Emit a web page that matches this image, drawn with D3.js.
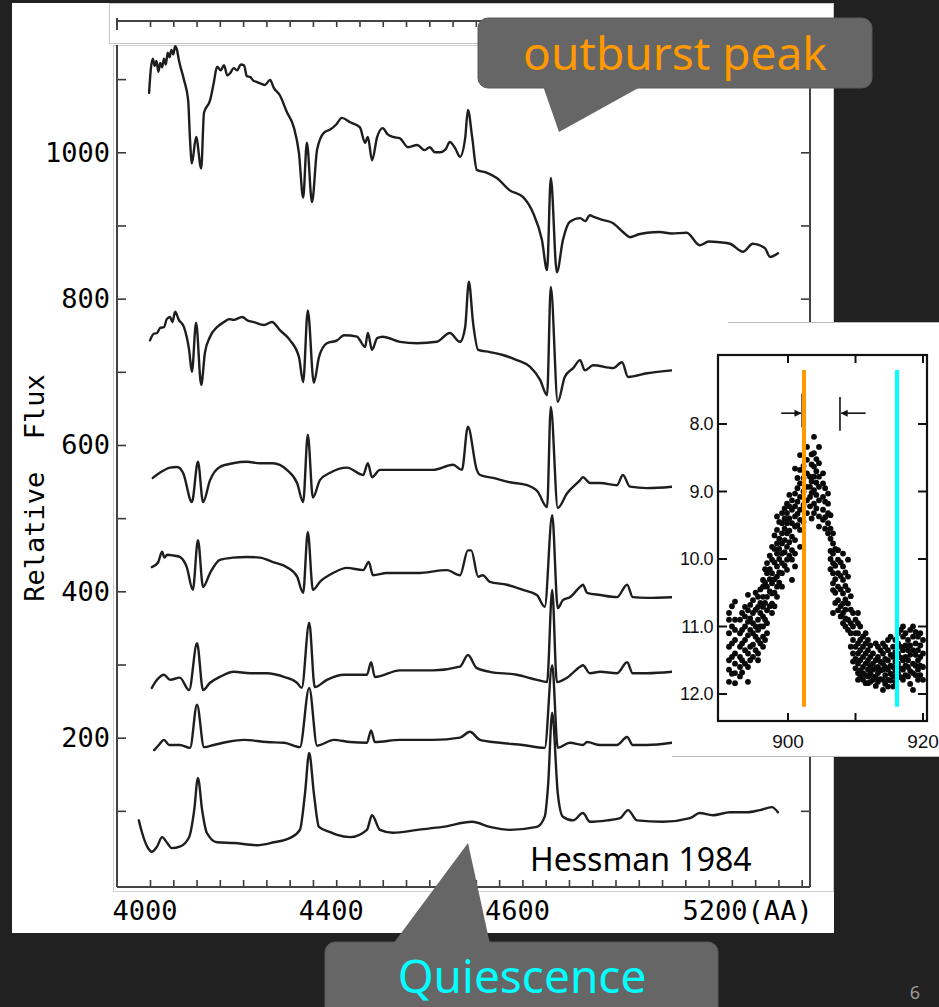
<!DOCTYPE html>
<html><head><meta charset="utf-8">
<script src="https://cdn.jsdelivr.net/npm/d3@7"></script>
<style>html,body{margin:0;padding:0;background:#212121;}svg{display:block}</style>
</head><body>
<svg id="c" width="939" height="1007"></svg>
<script>
// ---------- data: spectra (wavelength in Angstrom, relative flux) ----------
const specOutburst = [[3998,1081],[4002,1115],[4006,1128],[4010,1118],[4014,1125],[4018,1110],[4022,1122],[4026,1116],[4030,1128],[4034,1120],[4038,1136],[4042,1130],[4046,1140],[4050,1134],[4054,1145],[4058,1140],[4062,1126],[4073,1099],[4082,1071],[4086,1017],[4090,985],[4099,1021],[4110,978],[4116,1054],[4129,1071],[4137,1095],[4144,1117],[4152,1112],[4159,1119],[4166,1105],[4172,1108],[4180,1115],[4187,1112],[4195,1120],[4202,1119],[4208,1104],[4215,1103],[4222,1098],[4230,1096],[4238,1094],[4247,1092],[4258,1099],[4266,1088],[4279,1078],[4294,1055],[4309,1034],[4320,999],[4329,938],[4337,1013],[4348,932],[4359,1004],[4374,1027],[4387,1031],[4400,1038],[4412,1047],[4430,1041],[4451,1034],[4462,1013],[4468,1021],[4477,989],[4488,1021],[4500,1033],[4510,1025],[4522,1021],[4537,1019],[4554,1007],[4574,1010],[4590,1003],[4601,1007],[4612,1000],[4623,1000],[4635,1004],[4644,1014],[4656,1005],[4666,994],[4677,1019],[4683,1058],[4692,1021],[4702,976],[4724,972],[4745,965],[4773,948],[4801,939],[4823,917],[4842,880],[4853,839],[4861,965],[4874,836],[4887,880],[4902,905],[4924,910],[4935,906],[4945,914],[4952,912],[4970,908],[4995,903],[5016,891],[5031,884],[5050,888],[5068,890],[5095,891],[5120,889],[5153,890],[5181,873],[5200,878],[5224,877],[5246,875],[5274,864],[5295,875],[5321,869],[5332,857],[5349,862]];
const specDecline1 = [[4000,743],[4008,752],[4015,753],[4022,760],[4030,761],[4036,772],[4043,775],[4048,768],[4054,782],[4062,771],[4073,761],[4084,730],[4090,700],[4099,767],[4110,682],[4118,726],[4129,748],[4144,761],[4159,768],[4170,772],[4180,771],[4198,775],[4210,770],[4223,768],[4245,764],[4262,768],[4279,757],[4301,743],[4320,720],[4329,686],[4339,784],[4352,685],[4363,720],[4380,739],[4402,743],[4417,750],[4445,748],[4451,743],[4462,734],[4468,753],[4477,730],[4488,746],[4500,748],[4537,741],[4574,739],[4616,741],[4644,753],[4666,741],[4677,761],[4685,823],[4694,767],[4705,730],[4730,727],[4758,723],[4788,716],[4816,707],[4838,689],[4853,668],[4861,816],[4876,659],[4891,693],[4909,705],[4924,716],[4934,702],[4952,709],[4995,705],[5014,713],[5027,693],[5068,698],[5121,702]];
const specDecline2 = [[4006,555],[4021,562],[4043,569],[4058,570],[4071,562],[4090,522],[4103,577],[4114,522],[4129,552],[4150,570],[4178,575],[4208,577],[4236,575],[4264,575],[4294,566],[4316,548],[4329,522],[4339,614],[4350,528],[4365,552],[4387,562],[4423,569],[4458,559],[4468,575],[4477,556],[4494,566],[4537,566],[4608,566],[4651,573],[4670,566],[4683,625],[4702,566],[4709,559],[4737,555],[4773,549],[4810,545],[4833,536],[4853,515],[4861,652],[4876,514],[4896,534],[4924,552],[4930,556],[4945,548],[4967,548],[5003,545],[5016,559],[5031,543],[5068,541],[5121,543]];
const specDecline3 = [[4004,433],[4017,439],[4026,454],[4031,446],[4037,450],[4050,449],[4064,447],[4079,433],[4092,402],[4103,470],[4114,406],[4129,425],[4150,443],[4178,446],[4208,447],[4236,446],[4264,440],[4294,433],[4316,420],[4329,398],[4339,481],[4350,402],[4365,413],[4393,425],[4423,432],[4458,429],[4470,440],[4479,422],[4509,425],[4574,425],[4638,429],[4666,422],[4683,456],[4690,456],[4705,420],[4715,422],[4730,413],[4767,409],[4801,402],[4831,395],[4848,379],[4864,504],[4876,377],[4887,388],[4902,392],[4924,406],[4930,409],[4939,398],[4967,395],[5003,392],[5025,409],[5037,392],[5068,391],[5121,392]];
const specDecline4 = [[4004,268],[4015,279],[4030,286],[4043,279],[4064,282],[4084,265],[4101,329],[4114,265],[4129,275],[4150,283],[4180,290],[4215,288],[4251,288],[4288,283],[4316,275],[4326,268],[4342,357],[4354,269],[4380,279],[4417,286],[4445,286],[4466,286],[4475,303],[4483,283],[4537,292],[4608,292],[4666,297],[4683,313],[4702,295],[4730,290],[4788,286],[4831,279],[4853,276],[4864,402],[4874,276],[4896,282],[4924,297],[4930,299],[4945,288],[4967,290],[5003,288],[5025,303],[5037,288],[5068,288],[5121,290]];
const specDecline5 = [[4009,183],[4019,190],[4030,197],[4041,190],[4064,190],[4086,186],[4101,245],[4116,187],[4137,190],[4165,194],[4202,197],[4251,194],[4288,193],[4322,187],[4342,268],[4359,189],[4395,197],[4430,194],[4466,193],[4475,210],[4483,194],[4537,197],[4608,197],[4666,200],[4687,208],[4709,197],[4752,193],[4801,190],[4848,186],[4864,299],[4876,186],[4902,193],[4930,190],[4939,194],[4967,190],[5003,190],[5025,201],[5037,190],[5068,190],[5121,193]];
const specQuiescence = [[3976,87],[3983,70],[3994,51],[4004,44],[4015,51],[4026,64],[4037,56],[4047,49],[4064,51],[4084,64],[4095,101],[4103,145],[4112,101],[4122,70],[4144,57],[4180,56],[4230,53],[4266,57],[4301,63],[4322,74],[4333,124],[4342,179],[4352,124],[4363,78],[4387,71],[4402,67],[4430,64],[4466,74],[4477,94],[4494,74],[4522,70],[4574,74],[4629,78],[4692,85],[4730,78],[4773,74],[4831,78],[4848,92],[4855,133],[4864,234],[4876,124],[4887,92],[4909,87],[4930,97],[4945,85],[4982,87],[5010,90],[5027,101],[5046,87],[5102,85],[5160,90],[5181,97],[5209,94],[5246,98],[5282,98],[5310,101],[5336,105],[5349,98]];
const spectra = [specOutburst, specDecline1, specDecline2, specDecline3, specDecline4, specDecline5, specQuiescence];

const yTickValues = [200, 400, 600, 800, 1000];
const xTickValues = [4000, 4400, 4800, 5200];
const xTickLabels = ["4000", "4400", "4600", "5200(AA)"];

// ---------- data: inset light curve (time, magnitude), read column by column ----------
const lcCols = [
[891.26,[10.80,10.90,11.10,11.30,11.50,11.64,11.82]],
[891.70,[10.70,11.00,11.25,11.45,11.70]],
[892.15,[10.63,10.90,11.05,11.20,11.40,11.55,11.69,11.84]],
[892.89,[10.90,11.10,11.30,11.45,11.60,11.74]],
[893.20,[10.80,11.05,11.25,11.50,11.68]],
[893.63,[10.71,10.85,11.00,11.20,11.35,11.55]],
[894.07,[10.53,10.76,10.93,11.13,11.40,11.60,11.82]],
[894.40,[10.68,10.88,11.05,11.30,11.50]],
[894.81,[10.61,10.80,10.95,11.10,11.27,11.45]],
[895.20,[10.50,10.75,11.00,11.15,11.35]],
[895.56,[10.56,10.71,10.90,11.05,11.20,11.40,11.50]],
[895.90,[10.45,10.65,10.80,11.00,11.25]],
[896.30,[10.31,10.41,10.56,10.71,10.85,11.00,11.15,11.30]],
[896.60,[10.15,10.35,10.65,10.90,11.20]],
[896.89,[10.06,10.21,10.41,10.56,10.76,10.95,11.10]],
[897.30,[9.95,10.15,10.30,10.48,10.70]],
[897.63,[9.82,10.01,10.21,10.36,10.51,10.66,10.80]],
[898.00,[9.65,9.85,10.05,10.30,10.50,10.70]],
[898.37,[9.37,9.57,9.77,9.92,10.11,10.26,10.41,10.56]],
[898.70,[9.45,9.70,9.85,10.00,10.20,10.35]],
[899.11,[9.32,9.47,9.62,9.77,9.92,10.06,10.21,10.41]],
[899.50,[9.25,9.40,9.55,9.72,9.90,10.10]],
[899.85,[9.18,9.32,9.47,9.62,9.82,10.01,10.16]],
[900.20,[9.05,9.22,9.40,9.58,9.75,9.95]],
[900.59,[9.13,9.27,9.47,9.67,9.87,10.01,10.31]],
[901.04,[8.66,9.03,9.22,9.37,9.52,9.72,9.92,10.11]],
[901.40,[8.80,8.95,9.15,9.33,9.50]],
[901.78,[8.46,8.68,8.88,9.08,9.27,9.42,9.57,9.82]],
[902.30,[8.62,8.80,9.00,9.20,9.45]],
[902.81,[8.34,8.53,8.73,8.93,9.13,9.32]],
[903.26,[8.78,8.93,9.08,9.22]],
[903.50,[8.45,8.60,8.85,9.02,9.40]],
[903.85,[8.19,8.43,8.63,8.78,8.98,9.18,9.32]],
[904.20,[8.52,8.70,8.87,9.05,9.25]],
[904.59,[8.34,8.58,8.78,8.93,9.13,9.37,9.52]],
[905.19,[8.73,8.88,9.08,9.27,9.42]],
[905.50,[8.95,9.15,9.38,9.55]],
[905.93,[9.03,9.18,9.32,9.47,9.62]],
[906.30,[9.35,9.55,9.70,9.88,10.00,10.15]],
[906.67,[9.62,9.77,9.92,10.06,10.21,10.36,10.46,10.80]],
[907.00,[9.85,10.10,10.30,10.50,10.65]],
[907.41,[9.87,10.01,10.21,10.41,10.61,10.76]],
[907.80,[10.05,10.25,10.45,10.70,10.85]],
[908.15,[9.92,10.11,10.31,10.51,10.66,10.80,10.95]],
[908.50,[10.20,10.40,10.60,10.75,10.88,11.00]],
[908.89,[10.01,10.26,10.46,10.66,10.90,11.05]],
[909.30,[10.55,10.75,10.95,11.10,11.30]],
[909.63,[10.80,11.00,11.20,11.40,11.52]],
[910.00,[10.90,11.10,11.30,11.48,11.62]],
[910.37,[10.80,10.95,11.10,11.25,11.40,11.55,11.69,11.79]],
[910.70,[11.00,11.20,11.35,11.50,11.65,11.75]],
[911.11,[11.15,11.30,11.45,11.60,11.69,11.79]],
[911.50,[11.10,11.25,11.40,11.55,11.72,11.84]],
[911.85,[11.20,11.35,11.50,11.64,11.74,11.84]],
[912.20,[11.28,11.45,11.58,11.70,11.82]],
[912.59,[11.40,11.55,11.64,11.74,11.79]],
[913.00,[11.25,11.50,11.62,11.75,11.88]],
[913.33,[11.30,11.45,11.60,11.69,11.82]],
[913.70,[11.35,11.52,11.65,11.78]],
[914.07,[11.25,11.40,11.55,11.64,11.79,11.94]],
[914.40,[11.30,11.48,11.60,11.72,11.85]],
[914.81,[11.20,11.35,11.50,11.64,11.79,11.89]],
[915.20,[11.15,11.42,11.58,11.70,11.80]],
[915.56,[11.30,11.45,11.60,11.74,11.89]],
[915.90,[11.20,11.38,11.52,11.66,11.82]],
[916.30,[11.10,11.25,11.40,11.55,11.69]],
[916.70,[11.05,11.30,11.46,11.62,11.75]],
[917.04,[11.00,11.15,11.35,11.50,11.64,11.79]],
[917.40,[11.10,11.28,11.45,11.58,11.72]],
[917.78,[11.20,11.35,11.50,11.60,11.74]],
[918.10,[11.05,11.28,11.42,11.66,11.85]],
[918.52,[11.00,11.15,11.35,11.55,11.69,11.94]],
[918.90,[11.08,11.25,11.42,11.58,11.72]],
[919.26,[11.15,11.35,11.50,11.64,11.79]],
[919.60,[11.10,11.28,11.45,11.58,11.72]],
[920.00,[11.20,11.40,11.60,11.79]]
];
const lcYTicks = [8, 9, 10, 11, 12];
const lcYLabels = ["8.0", "9.0", "10.0", "11.0", "12.0"];
const lcXTicks = [900, 910, 920];
const lcXLabels = ["900", "", "920"];
const lcMarkers = [{t: 902.37, color: "#FF9900"}, {t: 916.15, color: "#00FFFF"}];

// ---------- drawing ----------
const svg = d3.select("#c");
const W = 939, H = 1007;
svg.append("rect").attr("width", W).attr("height", H).attr("fill", "#212121");

// white figure panel
svg.append("rect").attr("x", 12).attr("y", 3).attr("width", 822).attr("height", 930).attr("fill", "#fff");
// pasted-image edges
svg.append("rect").attr("x", 109.5).attr("y", 3.5).attr("width", 724).attr("height", 40)
  .attr("fill", "none").attr("stroke", "#c8c8c8").attr("stroke-width", 1);
svg.append("rect").attr("x", 113.5).attr("y", 45.5).attr("width", 720).attr("height", 846)
  .attr("fill", "none").attr("stroke", "#d0d0d0").attr("stroke-width", 1);

const L = 117, R = 810, T = 21, B = 887;
const x = d3.scaleLinear().domain([4000, 5200]).range([150, 708.6]);
const y = d3.scaleLinear().domain([0, 1000]).range([884, 152.3]);

const axisCol = "#3a3a3a";
const xt = d3.range(4000, 5401, 50);
const yt = d3.range(100, 1101, 100);
function styleAxis(g) {
  g.select(".domain").remove();
  g.selectAll(".tick line").attr("stroke", axisCol).attr("stroke-width", 1.6);
  g.selectAll(".tick text").remove();
}
svg.append("g").attr("transform", `translate(0,${B})`)
  .call(d3.axisTop(x).tickValues(xt).tickSize(7).tickFormat("")).call(styleAxis);
svg.append("g").attr("transform", `translate(0,${T})`)
  .call(d3.axisBottom(x).tickValues(xt).tickSize(6).tickFormat("")).call(styleAxis);
svg.append("g").attr("transform", `translate(${L},0)`)
  .call(d3.axisRight(y).tickValues(yt).tickSize(9).tickFormat("")).call(styleAxis);
svg.append("g").attr("transform", `translate(${R},0)`)
  .call(d3.axisLeft(y).tickValues(yt).tickSize(9).tickFormat("")).call(styleAxis);
// frame lines
const frame = svg.append("g").attr("stroke", "#444").attr("stroke-width", 2).attr("fill", "none");
frame.append("line").attr("x1", L).attr("x2", R).attr("y1", T).attr("y2", T);
frame.append("line").attr("x1", L).attr("x2", R).attr("y1", B).attr("y2", B);
frame.append("line").attr("x1", L).attr("x2", L).attr("y1", 45).attr("y2", B);
frame.append("line").attr("x1", L).attr("x2", L).attr("y1", T - 3).attr("y2", 30);
frame.append("line").attr("x1", R).attr("x2", R).attr("y1", T).attr("y2", B);

// spectra
const line = d3.line().curve(d3.curveMonotoneX).x(d => x(d[0])).y(d => y(d[1]));
svg.append("g").selectAll("path").data(spectra).join("path")
  .attr("d", line).attr("fill", "none").attr("stroke", "#1e1e1e")
  .attr("stroke-width", 2.4).attr("stroke-linejoin", "round").attr("stroke-linecap", "round");

// tick labels
const mono = "'DejaVu Sans Mono', monospace";
svg.append("g").selectAll("text").data(yTickValues).join("text")
  .attr("x", 110).attr("y", d => y(d)).attr("text-anchor", "end").attr("dominant-baseline", "central")
  .attr("font-family", mono).attr("font-size", 27).attr("fill", "#000").text(d => d);
svg.append("g").selectAll("text").data(xTickValues).join("text")
  .attr("x", (d, i) => i < 3 ? x(d) - 5 : x(d) - 26).attr("y", 920)
  .attr("text-anchor", (d, i) => i < 3 ? "middle" : "start")
  .attr("font-family", mono).attr("font-size", 27).attr("fill", "#000")
  .text((d, i) => xTickLabels[i]);
svg.append("text").attr("transform", "translate(44,488) rotate(-90)")
  .attr("text-anchor", "middle").attr("font-family", mono).attr("font-size", 27)
  .attr("fill", "#000").style("white-space", "pre").text("Relative  Flux");

svg.append("text").attr("x", 530).attr("y", 871).attr("font-family", "'Noto Sans', sans-serif")
  .attr("font-size", 32).attr("fill", "#000").text("Hessman 1984");

// ---------- inset light curve ----------
const ins = svg.append("g");
ins.append("rect").attr("x", 672).attr("y", 322).attr("width", 267).attr("height", 434).attr("fill", "#fff");
ins.append("line").attr("x1", 728).attr("x2", 939).attr("y1", 322.5).attr("y2", 322.5).attr("stroke", "#bbb");
ins.append("line").attr("x1", 672).attr("x2", 939).attr("y1", 756.5).attr("y2", 756.5).attr("stroke", "#bbb");
const lx = d3.scaleLinear().domain([900, 920]).range([788, 923]);
const ly = d3.scaleLinear().domain([8, 12]).range([424, 694]);
const fL = 718, fR = 927, fT = 355, fB = 721;
ins.append("rect").attr("x", fL).attr("y", fT).attr("width", fR - fL).attr("height", fB - fT)
  .attr("fill", "none").attr("stroke", "#111").attr("stroke-width", 2.2);
const tk = ins.append("g").attr("stroke", "#111").attr("stroke-width", 2);
lcYTicks.forEach(v => {
  tk.append("line").attr("x1", fL).attr("x2", fL + 9).attr("y1", ly(v)).attr("y2", ly(v));
  tk.append("line").attr("x1", fR).attr("x2", fR - 9).attr("y1", ly(v)).attr("y2", ly(v));
});
lcXTicks.forEach(v => {
  tk.append("line").attr("x1", lx(v)).attr("x2", lx(v)).attr("y1", fT).attr("y2", fT + 8);
  tk.append("line").attr("x1", lx(v)).attr("x2", lx(v)).attr("y1", fB).attr("y2", fB - 8);
});
ins.append("g").selectAll("text").data(lcYTicks).join("text")
  .attr("x", fL - 5).attr("y", d => ly(d)).attr("text-anchor", "end").attr("dominant-baseline", "central")
  .attr("font-family", "'Liberation Sans', Arial, sans-serif").attr("font-size", 18).attr("letter-spacing", -0.5)
  .attr("fill", "#111").text((d, i) => lcYLabels[i]);
ins.append("g").selectAll("text").data(lcXTicks).join("text")
  .attr("x", d => lx(d)).attr("y", 748).attr("text-anchor", "middle")
  .attr("font-family", "'Liberation Sans', Arial, sans-serif").attr("font-size", 19)
  .attr("fill", "#111").text((d, i) => lcXLabels[i]);
const pts = lcCols.flatMap(c => c[1].map(m => [c[0], m]));
ins.append("g").selectAll("circle").data(pts).join("circle")
  .attr("cx", d => lx(d[0])).attr("cy", d => ly(d[1])).attr("r", 2.9).attr("fill", "#0a0a0a");
// arrows
const ar = ins.append("g").attr("stroke", "#111").attr("stroke-width", 1.6).attr("fill", "none");
ar.append("line").attr("x1", lx(899.0)).attr("x2", lx(901.9)).attr("y1", ly(7.84)).attr("y2", ly(7.84));
ar.append("line").attr("x1", lx(902.1)).attr("x2", lx(902.1)).attr("y1", ly(7.55)).attr("y2", ly(8.05));
ar.append("line").attr("x1", lx(907.7)).attr("x2", lx(907.7)).attr("y1", ly(7.6)).attr("y2", ly(8.1));
ar.append("line").attr("x1", lx(907.9)).attr("x2", lx(911.5)).attr("y1", ly(7.84)).attr("y2", ly(7.84));
ins.append("path").attr("fill", "#111")
  .attr("d", `M${lx(902.0)},${ly(7.84)} l-7,-3.5 l0,7 z M${lx(907.8)},${ly(7.84)} l7,-3.5 l0,7 z`);
// markers
ins.append("g").selectAll("line").data(lcMarkers).join("line")
  .attr("x1", d => lx(d.t)).attr("x2", d => lx(d.t)).attr("y1", ly(7.2)).attr("y2", ly(12.19))
  .attr("stroke", d => d.color).attr("stroke-width", 4);

// ---------- callouts ----------
const calloutFill = "#666666";
svg.append("rect").attr("x", 478).attr("y", 18).attr("width", 394).attr("height", 70).attr("rx", 10)
  .attr("fill", calloutFill).attr("stroke", "#5a5a5a");
svg.append("path").attr("d", "M543,86 L559,132 L642,86 Z").attr("fill", calloutFill);
svg.append("text").attr("x", 675).attr("y", 70).attr("text-anchor", "middle")
  .attr("font-family", "'Noto Sans', sans-serif").attr("font-size", 46).attr("fill", "#FF9900").text("outburst peak");

svg.append("rect").attr("x", 325).attr("y", 942).attr("width", 393).attr("height", 90).attr("rx", 10)
  .attr("fill", calloutFill).attr("stroke", "#5a5a5a");
svg.append("path").attr("d", "M393,944 L468,843 L490,944 Z").attr("fill", calloutFill);
svg.append("text").attr("x", 522).attr("y", 993).attr("text-anchor", "middle")
  .attr("font-family", "'Noto Sans', sans-serif").attr("font-size", 46).attr("fill", "#00FFFF").text("Quiescence");

svg.append("text").attr("x", 915).attr("y", 999).attr("text-anchor", "middle")
  .attr("font-family", "'Noto Sans', sans-serif").attr("font-size", 18).attr("fill", "#9a9a9a").text("6");
</script>
</body></html>
